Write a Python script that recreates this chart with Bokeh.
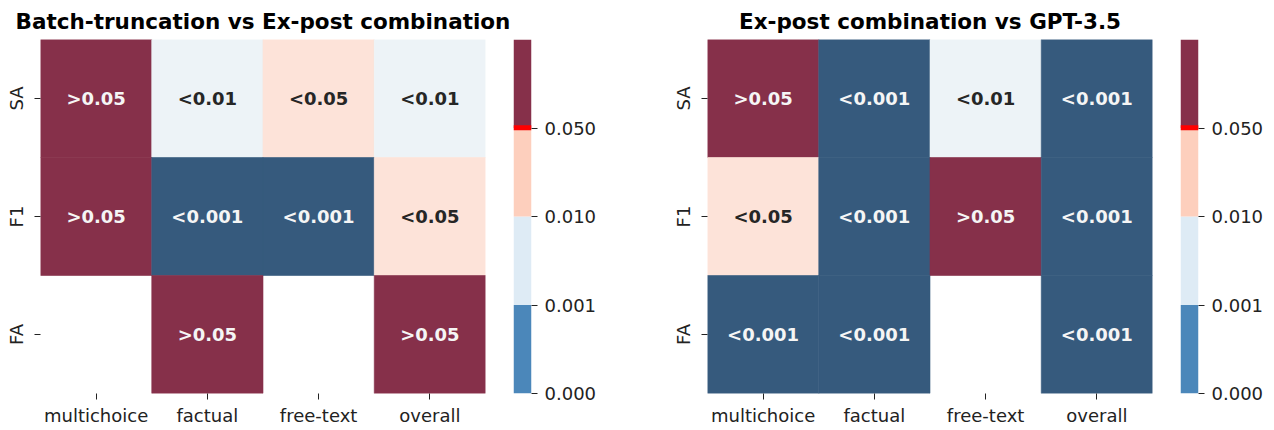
from bokeh.plotting import figure
from bokeh.layouts import row
from bokeh.models import ColumnDataSource, FactorRange, Range1d, FixedTicker
from bokeh.core.properties import value
from bokeh.embed import file_html
from bokeh.resources import INLINE

# ---------------- data ----------------
metrics = ["multichoice", "factual", "free-text", "overall"]
rows = ["SA", "F1", "FA"]

left_title = "Batch-truncation vs Ex-post combination"
left_SA = [">0.05", "<0.01", "<0.05", "<0.01"]
left_F1 = [">0.05", "<0.001", "<0.001", "<0.05"]
left_FA = [None, ">0.05", None, ">0.05"]

right_title = "Ex-post combination vs GPT-3.5"
right_SA = [">0.05", "<0.001", "<0.01", "<0.001"]
right_F1 = ["<0.05", "<0.001", ">0.05", "<0.001"]
right_FA = ["<0.001", "<0.001", None, "<0.001"]

cbar_ticks = ["0.000", "0.001", "0.010", "0.050"]

# ---------------- style ----------------
cell_fill = {"<0.001": "#365a7d", "<0.01": "#edf3f7", "<0.05": "#fde3d9", ">0.05": "#86304a"}
cell_text = {"<0.001": "#f5f5f5", "<0.01": "#262626", "<0.05": "#262626", ">0.05": "#f5f5f5"}
cbar_colors = ["#4b87ba", "#deebf5", "#fdcfbd", "#86304a"]

FONT = "DejaVu Sans"
H = 428
TOP = 38
BOTTOM = 35
TXT = "#222222"


def style_axes(p):
    p.grid.visible = False
    p.outline_line_color = None
    p.background_fill_color = "white"
    p.border_fill_color = "white"
    for ax in p.axis:
        ax.axis_line_color = None
        ax.major_tick_in = 0
        ax.major_tick_out = 6
        ax.minor_tick_line_color = None
        ax.major_tick_line_color = TXT
        ax.major_label_text_font = FONT
        ax.major_label_text_font_size = "18px"
        ax.major_label_text_color = TXT


def heatmap(title, grid, width, left, right):
    xs, ys, labels, fills, tcols = [], [], [], [], []
    for r, vals in zip(rows, grid):
        for m, v in zip(metrics, vals):
            if v is None:
                continue
            xs.append(m)
            ys.append(r)
            labels.append(v)
            fills.append(cell_fill[v])
            tcols.append(cell_text[v])
    src = ColumnDataSource(dict(x=xs, y=ys, label=labels, fill=fills, tcol=tcols))
    p = figure(width=width, height=H,
               x_range=FactorRange(*metrics),
               y_range=FactorRange(*list(reversed(rows))),
               output_backend="svg", toolbar_location=None,
               min_border_left=left, min_border_right=right,
               min_border_top=TOP, min_border_bottom=BOTTOM,
               title=title)
    p.rect(x="x", y="y", width=1, height=1, fill_color="fill", line_color="fill",
           line_width=0.6, source=src)
    p.text(x="x", y="y", text="label", text_color="tcol", text_align="center",
           text_baseline="middle", text_font=value(FONT), text_font_style="bold",
           text_font_size="18px", source=src)
    p.title.text_font = FONT
    p.title.text_font_size = "21.5px"
    p.title.text_font_style = "bold"
    p.title.align = "center"
    p.title.text_color = "black"
    p.title.standoff = 12
    style_axes(p)
    p.xaxis.major_label_standoff = 5
    p.yaxis.major_label_standoff = 8
    p.yaxis.major_label_orientation = "vertical"
    return p


def colorbar(width, right):
    p = figure(width=width, height=H, x_range=Range1d(0, 1),
               y_range=Range1d(0, len(cbar_colors)),
               y_axis_location="right", x_axis_location=None,
               output_backend="svg", toolbar_location=None,
               min_border_left=0, min_border_right=right,
               min_border_top=TOP, min_border_bottom=BOTTOM)
    n = len(cbar_colors)
    p.quad(left=0, right=1, bottom=list(range(n)), top=list(range(1, n + 1)),
           fill_color=cbar_colors, line_color=None)
    p.quad(left=0, right=1, bottom=[2.975], top=[3.03], fill_color="#ff0000", line_color=None)
    style_axes(p)
    p.yaxis.ticker = FixedTicker(ticks=list(range(len(cbar_ticks))))
    p.yaxis.major_label_overrides = {i: t for i, t in enumerate(cbar_ticks)}
    p.yaxis.major_label_standoff = 7
    return p


h1 = heatmap(left_title, [left_SA, left_F1, left_FA], 513, 40, 28)
c1 = colorbar(147, 129)
h2 = heatmap(right_title, [right_SA, right_F1, right_FA], 520, 47, 28)
c2 = colorbar(90, 72)

layout = row(h1, c1, h2, c2)
open("out.html", "w").write(file_html(layout, INLINE))
